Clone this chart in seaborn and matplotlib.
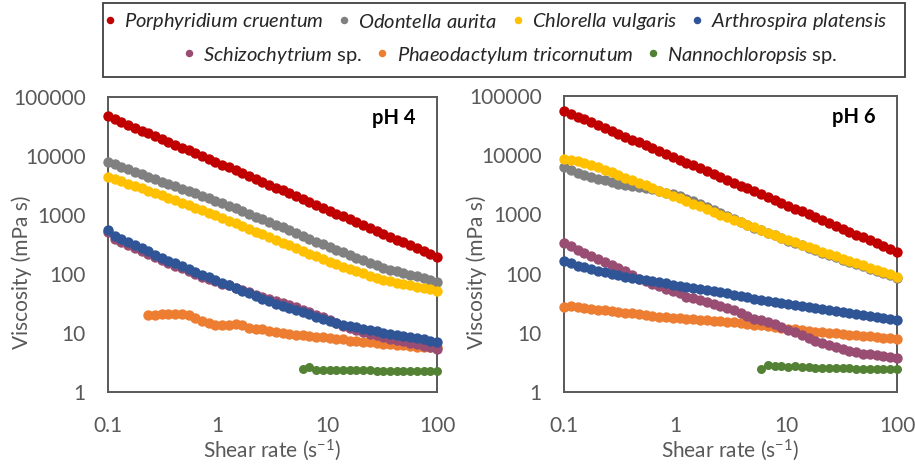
import matplotlib
matplotlib.use("Agg")
import matplotlib.pyplot as plt
import seaborn as sns
import pandas as pd
from matplotlib.lines import Line2D
from matplotlib.patches import Rectangle
from matplotlib.ticker import FixedLocator, FuncFormatter, NullLocator

# ---------------------------------------------------------------- data
shear_rate = [0.1, 0.1151, 0.1326, 0.1526, 0.1758, 0.2024, 0.2330, 0.2683, 0.3089, 0.3556,
              0.4095, 0.4715, 0.5429, 0.6251, 0.7197, 0.8287, 0.9541, 1.099, 1.265, 1.456,
              1.677, 1.931, 2.223, 2.560, 2.947, 3.393, 3.907, 4.498, 5.179, 5.964,
              6.866, 7.906, 9.103, 10.48, 12.07, 13.89, 16.00, 18.42, 21.21, 24.42,
              28.12, 32.37, 37.28, 42.92, 49.42, 56.90, 65.51, 75.43, 86.85, 100.0]

species = ["Porphyridium cruentum", "Odontella aurita", "Chlorella vulgaris",
           "Arthrospira platensis", "Schizochytrium sp.", "Phaeodactylum tricornutum",
           "Nannochloropsis sp."]

legend_labels = [r"$\mathit{Porphyridium\ cruentum}$", r"$\mathit{Odontella\ aurita}$",
                 r"$\mathit{Chlorella\ vulgaris}$", r"$\mathit{Arthrospira\ platensis}$",
                 r"$\mathit{Schizochytrium}$ sp.", r"$\mathit{Phaeodactylum\ tricornutum}$",
                 r"$\mathit{Nannochloropsis}$ sp."]

panel_titles = ["pH 4", "pH 6"]
x_ticks = [0.1, 1, 10, 100]
y_ticks = [1, 10, 100, 1000, 10000, 100000]

# viscosity (mPa s) at pH 4
porphyridium_ph4 = [46800, 41900, 37500, 33600, 30100, 26900, 24100, 21600, 19300, 17300,
                    15500, 13900, 12400, 11100, 9950, 8910, 7980, 7140, 6400, 5730,
                    5130, 4580, 4090, 3660, 3270, 2920, 2610, 2330, 2080, 1860,
                    1660, 1480, 1320, 1180, 1060, 944, 843, 753, 673, 601,
                    537, 480, 429, 383, 342, 305, 273, 244, 218, 195]
odontella_ph4 = [7940, 7210, 6560, 5960, 5410, 4920, 4470, 4060, 3690, 3360,
                 3060, 2790, 2540, 2320, 2110, 1920, 1750, 1580, 1430, 1290,
                 1160, 1040, 940, 847, 764, 685, 614, 551, 493, 442,
                 395, 355, 318, 286, 258, 233, 210, 190, 172, 155,
                 140, 127, 119, 111, 104, 97.3, 90.8, 84.9, 79.3, 74.1]
chlorella_ph4 = [4470, 4080, 3730, 3400, 3110, 2840, 2600, 2380, 2170, 1970,
                 1790, 1620, 1470, 1330, 1200, 1090, 986, 889, 798, 718,
                 646, 579, 520, 468, 421, 377, 339, 305, 274, 245,
                 221, 199, 178, 161, 147, 134, 123, 112, 103, 93.8,
                 85.7, 79.1, 74.8, 71.1, 67.6, 64.3, 61.1, 58.1, 55.2, 52.5]
arthrospira_ph4 = [550, 437, 387, 344, 305, 271, 241, 214, 190, 168,
                   151, 135, 121, 109, 97.7, 87.7, 78.5, 70.8, 64.0, 57.7,
                   52.1, 47.0, 42.4, 38.3, 34.5, 31.6, 29.0, 26.6, 24.4, 22.4,
                   20.6, 18.9, 17.3, 15.9, 14.6, 13.8, 13.1, 12.5, 11.8, 11.2,
                   10.7, 10.1, 9.66, 9.25, 8.85, 8.49, 8.13, 7.78, 7.45, 7.13]
schizochytrium_ph4 = [525, 398, 353, 314, 279, 247, 220, 195, 173, 155,
                      139, 125, 112, 100, 90.2, 83.8, 75.0, 67.6, 64.0, 57.7,
                      54.6, 49.2, 44.4, 40.1, 38.3, 35.0, 32.1, 29.5, 27.1, 24.8,
                      22.8, 20.2, 18.6, 16.5, 14.6, 13.2, 12.2, 11.4, 10.5, 9.79,
                      9.08, 8.53, 8.04, 7.60, 7.19, 6.82, 6.46, 6.04, 5.71, 5.41]
phaeodactylum_ph4 = [None] * 6 + [20.0, 20.4, 20.9, 21.4,
                     21.4, 20.9, 20.0, 18.2, 16.2, 14.8, 13.8, 13.5, 13.8, 14.1,
                     13.5, 12.3, 11.7, 11.5, 11.0, 10.5, 10.0, 9.55, 9.33, 9.12,
                     8.91, 8.71, 8.51, 8.32, 7.94, 7.76, 7.41, 7.24, 7.08, 6.92,
                     6.76, 6.61, 6.46, 6.31, 6.17, 6.03, 5.89, 5.89, 5.75, 5.75]
nannochloropsis_ph4 = [None] * 29 + [2.42,
                       2.65, 2.38, 2.36, 2.35, 2.35, 2.34, 2.33, 2.33, 2.32, 2.32,
                       2.31, 2.31, 2.30, 2.30, 2.30, 2.30, 2.29, 2.29, 2.29, 2.29]

# viscosity (mPa s) at pH 6
porphyridium_ph6 = [56200, 50200, 45000, 40200, 36000, 32100, 28700, 25700, 23000, 20600,
                    18400, 16400, 14700, 13100, 11700, 10500, 9380, 8390, 7500, 6710,
                    6000, 5360, 4800, 4290, 3840, 3430, 3060, 2740, 2450, 2190,
                    1960, 1750, 1570, 1400, 1250, 1120, 1000, 895, 800, 716,
                    640, 571, 512, 457, 409, 366, 327, 292, 261, 234]
odontella_ph6 = [6310, 5620, 5010, 4570, 4270, 4000, 3760, 3520, 3310, 3160,
                 2990, 2870, 2750, 2640, 2470, 2320, 2190, 2010, 1840, 1670,
                 1510, 1340, 1190, 1050, 935, 830, 736, 662, 600, 546,
                 492, 444, 399, 361, 328, 299, 272, 248, 226, 206,
                 188, 171, 157, 144, 132, 121, 111, 101, 92.9, 85.1]
chlorella_ph6 = [8710, 8360, 7930, 7380, 6810, 6250, 5660, 5130, 4650, 4200,
                 3790, 3430, 3100, 2800, 2530, 2290, 2060, 1860, 1680, 1510,
                 1360, 1220, 1100, 995, 897, 809, 735, 665, 603, 546,
                 494, 448, 406, 369, 337, 308, 281, 257, 235, 215,
                 196, 179, 164, 151, 138, 126, 116, 106, 97.3, 89.1]
arthrospira_ph6 = [162, 149, 137, 127, 119, 111, 105, 99.5, 94.4, 89.3,
                   85.5, 81.7, 78.2, 74.6, 71.4, 68.1, 65.0, 61.9, 59.2, 56.4,
                   54.2, 52.1, 50.1, 48.3, 46.5, 44.1, 41.8, 39.6, 37.6, 35.6,
                   34.3, 32.9, 31.6, 30.4, 29.3, 28.1, 27.0, 26.0, 24.9, 24.0,
                   23.2, 22.5, 21.7, 21.0, 20.2, 19.5, 18.7, 17.9, 17.3, 16.6]
schizochytrium_ph6 = [331, 288, 254, 223, 201, 177, 155, 138, 123, 110,
                      96.0, 80.9, 73.6, 67.0, 61.0, 56.0, 51.4, 46.5, 41.0, 38.0,
                      35.3, 32.7, 30.4, 28.1, 26.1, 24.0, 21.5, 19.3, 17.4, 16.3,
                      15.2, 13.9, 12.5, 11.3, 10.2, 9.10, 8.15, 7.35, 6.73, 6.17,
                      5.69, 5.33, 4.99, 4.67, 4.44, 4.31, 4.17, 4.05, 3.92, 3.80]
phaeodactylum_ph6 = [27.5, 28.1, 26.9, 26.1, 25.4, 24.6, 23.9, 23.2, 22.5, 21.8,
                     21.2, 20.5, 19.9, 19.3, 18.7, 18.3, 18.0, 17.7, 17.3, 17.0,
                     16.7, 16.4, 16.1, 15.8, 15.5, 15.0, 14.6, 14.1, 13.7, 13.3,
                     12.9, 12.5, 12.1, 11.8, 11.4, 11.1, 10.8, 10.5, 10.3, 10.0,
                     9.75, 9.48, 9.27, 9.08, 8.87, 8.69, 8.49, 8.30, 8.13, 7.94]
nannochloropsis_ph6 = [None] * 29 + [2.45,
                       2.85, 2.70, 2.75, 2.65, 2.80, 2.65, 2.60, 2.55, 2.55, 2.50,
                       2.50, 2.50, 2.50, 2.45, 2.45, 2.45, 2.45, 2.45, 2.45, 2.45]

panels = {
    "pH 4": [porphyridium_ph4, odontella_ph4, chlorella_ph4, arthrospira_ph4,
             schizochytrium_ph4, phaeodactylum_ph4, nannochloropsis_ph4],
    "pH 6": [porphyridium_ph6, odontella_ph6, chlorella_ph6, arthrospira_ph6,
             schizochytrium_ph6, phaeodactylum_ph6, nannochloropsis_ph6],
}

rows = []
for ph, series in panels.items():
    for name, values in zip(species, series):
        for x, y in zip(shear_rate, values):
            rows.append({"pH": ph, "species": name, "shear_rate": x, "viscosity": y})
df = pd.DataFrame(rows).dropna()

# ---------------------------------------------------------------- style
sns.set_style("white")
plt.rcParams["font.family"] = ["Lato", "DejaVu Sans"]
plt.rcParams["mathtext.fontset"] = "custom"
plt.rcParams["mathtext.rm"] = "Lato"
plt.rcParams["mathtext.it"] = "Lato:italic"
plt.rcParams["mathtext.bf"] = "Lato:bold"

palette = {
    "Porphyridium cruentum": "#C00000",
    "Odontella aurita": "#808080",
    "Chlorella vulgaris": "#FFC000",
    "Arthrospira platensis": "#2F5597",
    "Schizochytrium sp.": "#9A4D72",
    "Phaeodactylum tricornutum": "#ED7D31",
    "Nannochloropsis sp.": "#548235",
}
marker_area = {name: 56 for name in species}
marker_area["Nannochloropsis sp."] = 42

draw_order = ["Odontella aurita", "Chlorella vulgaris", "Porphyridium cruentum",
              "Phaeodactylum tricornutum", "Schizochytrium sp.",
              "Arthrospira platensis", "Nannochloropsis sp."]

axis_grey = "#595959"

fig = plt.figure(figsize=(9.15, 4.65), dpi=100)
ax_left = fig.add_axes([108 / 915, 1 - 392 / 465, 329 / 915, 295 / 465])
ax_right = fig.add_axes([564 / 915, 1 - 392 / 465, 333 / 915, 296 / 465])

for ax, ph in zip([ax_left, ax_right], panel_titles):
    ax.set_xscale("log")
    ax.set_yscale("log")
    sub_ph = df[df["pH"] == ph]
    for z, name in enumerate(draw_order):
        sub = sub_ph[sub_ph["species"] == name]
        sns.scatterplot(data=sub, x="shear_rate", y="viscosity", color=palette[name],
                        s=marker_area[name], linewidth=0, ax=ax, legend=False,
                        zorder=3 + z)
        ax.collections[-1].set_clip_on(False)

    ax.set_xlim(0.1, 100)
    ax.set_ylim(1, 100000)
    ax.xaxis.set_major_locator(FixedLocator(x_ticks))
    ax.yaxis.set_major_locator(FixedLocator(y_ticks))
    ax.xaxis.set_minor_locator(NullLocator())
    ax.yaxis.set_minor_locator(NullLocator())
    fmt = FuncFormatter(lambda v, p: f"{v:g}")
    ax.xaxis.set_major_formatter(fmt)
    ax.yaxis.set_major_formatter(fmt)
    ax.tick_params(axis="both", length=0, labelsize=15, labelcolor=axis_grey)
    ax.tick_params(axis="x", pad=17)
    ax.tick_params(axis="y", pad=16)
    for spine in ax.spines.values():
        spine.set_visible(True)
        spine.set_color(axis_grey)
        spine.set_linewidth(1.4)
        spine.set_zorder(2)

    ax.set_xlabel(r"Shear rate (s$^{-1}$)", fontsize=15, color=axis_grey)
    ax.set_ylabel("Viscosity (mPa s)", fontsize=15, color=axis_grey)
    ax.xaxis.set_label_coords(0.5, -0.197)
    ax.xaxis.label.set_va("center")
    ax.yaxis.set_label_coords(-0.261, 0.405)
    ax.yaxis.label.set_va("center")

    ax.text(0.87, 0.93, ph, transform=ax.transAxes, ha="center", va="center",
            fontsize=14.5, fontweight="bold", color="black")

# ---------------------------------------------------------------- legend
handles = [Line2D([], [], marker="o", linestyle="", markersize=5.4,
                  markerfacecolor=palette[n], markeredgewidth=0) for n in species]
legend_kw = dict(loc="center", frameon=False, fontsize=14.5, labelcolor="#262626",
                 handlelength=0.5, handletextpad=0.45, columnspacing=0.75,
                 borderpad=0, borderaxespad=0)
fig.legend(handles[:4], legend_labels[:4], ncol=4,
           bbox_to_anchor=(0.5426, 1 - 22 / 465), **legend_kw)
fig.legend(handles[4:], legend_labels[4:], ncol=3,
           bbox_to_anchor=(0.5585, 1 - 55 / 465), **legend_kw)
fig.add_artist(Rectangle((103 / 915, 1 - 77 / 465), 802 / 915, 74 / 465,
                         transform=fig.transFigure, fill=False,
                         edgecolor="#404040", linewidth=1.3))

fig.savefig("out.png", dpi=100)
